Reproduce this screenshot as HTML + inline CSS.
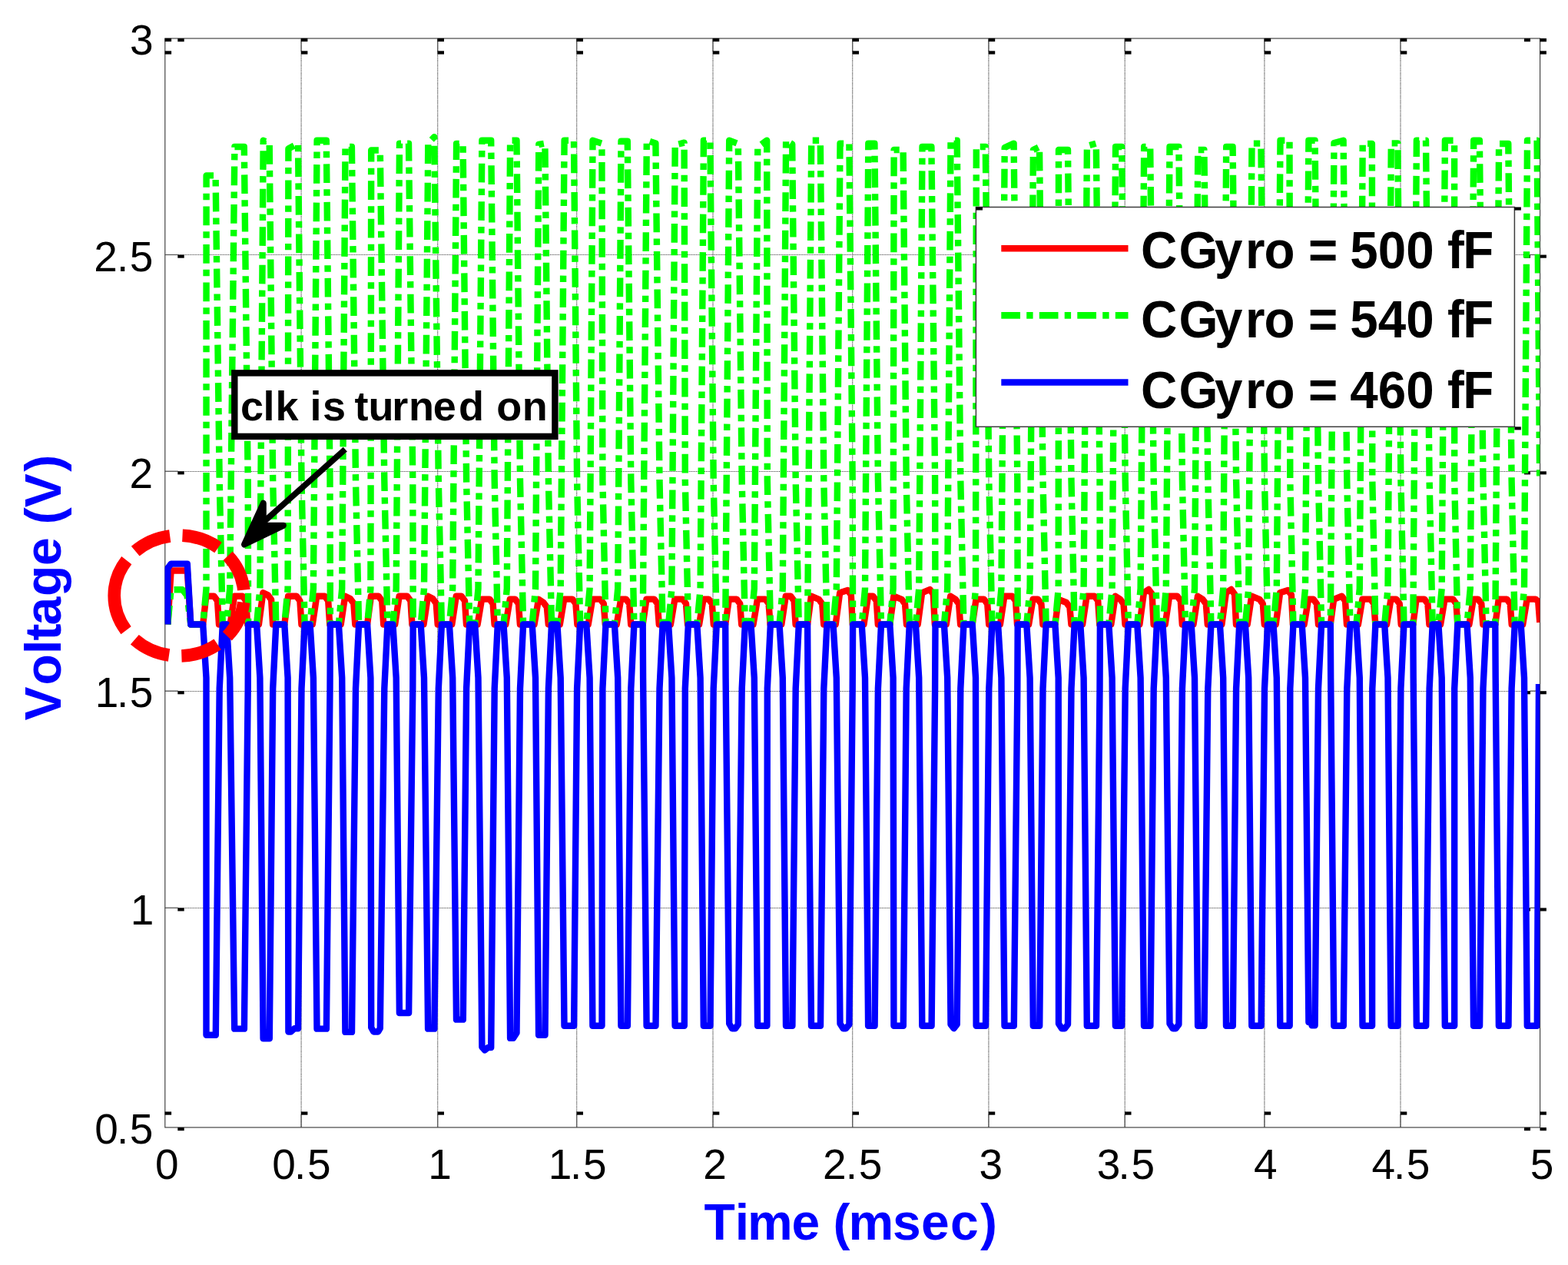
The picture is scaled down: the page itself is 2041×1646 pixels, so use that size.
<!DOCTYPE html>
<html lang="en"><head><meta charset="utf-8"><title>Voltage vs Time</title>
<style>html,body{margin:0;padding:0;background:#fff}body{width:2041px;height:1646px;overflow:hidden}svg{display:block}text{font-family:'Liberation Sans', sans-serif}</style>
</head><body>
<svg width="2041" height="1646" viewBox="0 0 2041 1646">
<rect x="0" y="0" width="2041" height="1646" fill="#fff"/>
<defs><clipPath id="ax"><rect x="214.4" y="50" width="1789.9" height="1417"/></clipPath></defs>
<g stroke="#d8d8d8" stroke-width="1.05" fill="none">
<line x1="392.1" y1="50" x2="392.1" y2="1467"/>
<line x1="569.7" y1="50" x2="569.7" y2="1467"/>
<line x1="750.7" y1="50" x2="750.7" y2="1467"/>
<line x1="928" y1="50" x2="928" y2="1467"/>
<line x1="1109.7" y1="50" x2="1109.7" y2="1467"/>
<line x1="1286.9" y1="50" x2="1286.9" y2="1467"/>
<line x1="1464.2" y1="50" x2="1464.2" y2="1467"/>
<line x1="1645.9" y1="50" x2="1645.9" y2="1467"/>
<line x1="1823" y1="50" x2="1823" y2="1467"/>
</g>
<g stroke="#4a4a4a" stroke-width="1.05" stroke-dasharray="1.08 1.08" fill="none">
<line x1="392.1" y1="50" x2="392.1" y2="1467"/>
<line x1="569.7" y1="50" x2="569.7" y2="1467"/>
<line x1="750.7" y1="50" x2="750.7" y2="1467"/>
<line x1="928" y1="50" x2="928" y2="1467"/>
<line x1="1109.7" y1="50" x2="1109.7" y2="1467"/>
<line x1="1286.9" y1="50" x2="1286.9" y2="1467"/>
<line x1="1464.2" y1="50" x2="1464.2" y2="1467"/>
<line x1="1645.9" y1="50" x2="1645.9" y2="1467"/>
<line x1="1823" y1="50" x2="1823" y2="1467"/>
</g>
<g stroke="#3c3c3c" stroke-width="1" stroke-dasharray="1.08 1.08" fill="none">
<line x1="214.8" y1="331.5" x2="2004.6" y2="331.5"/>
<line x1="214.8" y1="613.5" x2="2004.6" y2="613.5"/>
<line x1="214.8" y1="899.5" x2="2004.6" y2="899.5"/>
<line x1="214.8" y1="1181.5" x2="2004.6" y2="1181.5"/>
</g>
<rect x="214.8" y="50" width="1789.8" height="1417" fill="none" stroke="#3e3e3e" stroke-width="1.15"/>
<g stroke="#555" stroke-width="1.2" fill="none">
<line x1="392.1" y1="50" x2="392.1" y2="67"/>
<line x1="392.1" y1="1467" x2="392.1" y2="1450"/>
<line x1="569.7" y1="50" x2="569.7" y2="67"/>
<line x1="569.7" y1="1467" x2="569.7" y2="1450"/>
<line x1="750.7" y1="50" x2="750.7" y2="67"/>
<line x1="750.7" y1="1467" x2="750.7" y2="1450"/>
<line x1="928" y1="50" x2="928" y2="67"/>
<line x1="928" y1="1467" x2="928" y2="1450"/>
<line x1="1109.7" y1="50" x2="1109.7" y2="67"/>
<line x1="1109.7" y1="1467" x2="1109.7" y2="1450"/>
<line x1="1286.9" y1="50" x2="1286.9" y2="67"/>
<line x1="1286.9" y1="1467" x2="1286.9" y2="1450"/>
<line x1="1464.2" y1="50" x2="1464.2" y2="67"/>
<line x1="1464.2" y1="1467" x2="1464.2" y2="1450"/>
<line x1="1645.9" y1="50" x2="1645.9" y2="67"/>
<line x1="1645.9" y1="1467" x2="1645.9" y2="1450"/>
<line x1="1823" y1="50" x2="1823" y2="67"/>
<line x1="1823" y1="1467" x2="1823" y2="1450"/>
<line x1="214.8" y1="331.5" x2="231.8" y2="331.5"/>
<line x1="2004.6" y1="331.5" x2="1991.6" y2="331.5"/>
<line x1="214.8" y1="613.2" x2="231.8" y2="613.2"/>
<line x1="2004.6" y1="613.2" x2="1991.6" y2="613.2"/>
<line x1="214.8" y1="899.1" x2="231.8" y2="899.1"/>
<line x1="2004.6" y1="899.1" x2="1991.6" y2="899.1"/>
<line x1="214.8" y1="1181.3" x2="231.8" y2="1181.3"/>
<line x1="2004.6" y1="1181.3" x2="1991.6" y2="1181.3"/>
</g>
<g fill="#000">
<rect x="214.6" y="49.9" width="8.5" height="4.2"/>
<rect x="214.6" y="66.3" width="8.5" height="4.3"/>
<rect x="214.6" y="1446.5" width="8.5" height="4.2"/>
<rect x="391.9" y="49.9" width="8.5" height="4.2"/>
<rect x="391.9" y="66.3" width="8.5" height="4.3"/>
<rect x="391.9" y="1446.5" width="8.5" height="4.2"/>
<rect x="569.5" y="49.9" width="8.5" height="4.2"/>
<rect x="569.5" y="66.3" width="8.5" height="4.3"/>
<rect x="569.5" y="1446.5" width="8.5" height="4.2"/>
<rect x="750.5" y="49.9" width="8.5" height="4.2"/>
<rect x="750.5" y="66.3" width="8.5" height="4.3"/>
<rect x="750.5" y="1446.5" width="8.5" height="4.2"/>
<rect x="927.8" y="49.9" width="8.5" height="4.2"/>
<rect x="927.8" y="66.3" width="8.5" height="4.3"/>
<rect x="927.8" y="1446.5" width="8.5" height="4.2"/>
<rect x="1109.5" y="49.9" width="8.5" height="4.2"/>
<rect x="1109.5" y="66.3" width="8.5" height="4.3"/>
<rect x="1109.5" y="1446.5" width="8.5" height="4.2"/>
<rect x="1286.7" y="49.9" width="8.5" height="4.2"/>
<rect x="1286.7" y="66.3" width="8.5" height="4.3"/>
<rect x="1286.7" y="1446.5" width="8.5" height="4.2"/>
<rect x="1464" y="49.9" width="8.5" height="4.2"/>
<rect x="1464" y="66.3" width="8.5" height="4.3"/>
<rect x="1464" y="1446.5" width="8.5" height="4.2"/>
<rect x="1645.7" y="49.9" width="8.5" height="4.2"/>
<rect x="1645.7" y="66.3" width="8.5" height="4.3"/>
<rect x="1645.7" y="1446.5" width="8.5" height="4.2"/>
<rect x="1822.8" y="49.9" width="8.5" height="4.2"/>
<rect x="1822.8" y="66.3" width="8.5" height="4.3"/>
<rect x="1822.8" y="1446.5" width="8.5" height="4.2"/>
<rect x="2004.4" y="49.9" width="8.5" height="4.2"/>
<rect x="2004.4" y="66.3" width="8.5" height="4.3"/>
<rect x="2004.4" y="1446.5" width="8.5" height="4.2"/>
<rect x="231.3" y="50.1" width="8.4" height="4.1"/>
<rect x="1984" y="50.1" width="8" height="4.1"/>
<rect x="2004.5" y="50.1" width="8.4" height="4.1"/>
<rect x="231.3" y="331.6" width="8.4" height="4.1"/>
<rect x="1984" y="331.6" width="8" height="4.1"/>
<rect x="2004.5" y="331.6" width="8.4" height="4.1"/>
<rect x="231.3" y="613.3" width="8.4" height="4.1"/>
<rect x="1984" y="613.3" width="8" height="4.1"/>
<rect x="2004.5" y="613.3" width="8.4" height="4.1"/>
<rect x="231.3" y="899.2" width="8.4" height="4.1"/>
<rect x="1984" y="899.2" width="8" height="4.1"/>
<rect x="2004.5" y="899.2" width="8.4" height="4.1"/>
<rect x="231.3" y="1181.4" width="8.4" height="4.1"/>
<rect x="1984" y="1181.4" width="8" height="4.1"/>
<rect x="2004.5" y="1181.4" width="8.4" height="4.1"/>
<rect x="231.3" y="1467.1" width="8.4" height="4.1"/>
<rect x="1984" y="1467.1" width="8" height="4.1"/>
<rect x="2004.5" y="1467.1" width="8.4" height="4.1"/>
</g>
<g fill="none" stroke-width="8.4" stroke-linejoin="round" stroke-linecap="butt" clip-path="url(#ax)">
<path stroke="#f00" d="M218.3 812.5 L222.6 742.5 L243.8 742.5 L248.3 812.5 L264.2 812.5 L268.3 775.7 L278.6 775.7 L283 781.7 L285 812.5 L299.6 812.5 L305.1 775.7 L315.8 775.7 L320.2 781.7 L322.2 812.5 L336.9 812.5 L342.4 771.3 L348.7 774.3 L353.1 780.3 L355.1 812.5 L370.3 812.5 L375.1 775.7 L386 775.7 L390.4 781.7 L392.4 812.5 L406.8 812.5 L412.3 775.7 L422.8 775.7 L427.2 781.7 L429.2 812.5 L443.7 812.5 L449.2 775.7 L455.9 779 L460.3 785 L462.3 812.5 L478.1 812.5 L482.9 775.7 L492.8 775.7 L497.2 781.7 L499.2 812.5 L514.2 812.5 L519.7 775.7 L530 775.7 L534.4 781.7 L536.4 812.5 L551.5 812.5 L557 775.7 L563.3 779 L567.7 785 L569.7 812.5 L588.3 812.5 L593.8 775.7 L600.6 775.7 L605 781.7 L607 812.5 L621.6 812.5 L627.1 779.6 L637.2 779.6 L641.6 785.6 L643.6 812.5 L658.3 812.5 L663.8 779.6 L670.5 779.6 L674.9 785.6 L676.9 812.5 L695.5 812.5 L701 779.8 L707.4 784 L711.8 790 L713.8 812.5 L728.8 812.5 L734.3 779.6 L745 779.6 L749.4 785.6 L751.4 812.5 L765.7 812.5 L771.2 779.6 L781.4 779.6 L785.8 785.6 L787.8 812.5 L802.7 812.5 L808.2 779.6 L814.8 779.6 L819.2 785.6 L821.2 812.5 L836.7 812.5 L841.5 779.6 L851.4 779.6 L855.8 785.6 L857.8 812.5 L872.9 812.5 L878.4 779.6 L888.6 779.6 L893 785.6 L895 812.5 L910.1 812.5 L915.6 779.6 L922.4 779.6 L926.8 785.6 L928.8 812.5 L944.2 812.5 L948.9 779.6 L958.8 779.6 L963.2 785.6 L965.2 812.5 L980.5 812.5 L986 779.6 L996.2 779.6 L1000.6 785.6 L1002.6 812.5 L1017.3 812.5 L1022.8 775.7 L1029.2 775.7 L1033.6 781.7 L1035.6 812.5 L1051.1 812.5 L1055.9 775.7 L1065.8 779.8 L1070.2 785.8 L1072.2 812.5 L1087.7 812.5 L1093.2 771.3 L1103.4 768 L1107.8 774 L1109.8 812.5 L1124.5 812.5 L1130 775.7 L1136.4 775.7 L1140.8 781.7 L1142.8 812.5 L1158.3 812.5 L1163.3 775.7 L1173.6 779.8 L1178 785.8 L1180 812.5 L1194.7 812.5 L1200.2 771.3 L1210.4 767 L1214.8 773 L1216.8 812.5 L1231.7 812.5 L1237.2 775.7 L1243.7 779.8 L1248.1 785.8 L1250.1 812.5 L1265.7 812.5 L1270.5 779.8 L1280.8 779.8 L1285.2 785.8 L1287.2 812.5 L1301.9 812.5 L1307.4 775.7 L1317.6 775.7 L1322 781.7 L1324 812.5 L1339.1 812.5 L1344.6 779.8 L1351 779.8 L1355.4 785.8 L1357.4 812.5 L1373.4 812.5 L1377.7 779.8 L1388 784 L1392.4 790 L1394.4 812.5 L1409.1 812.5 L1414.6 775.7 L1424.8 775.7 L1429.2 781.7 L1431.2 812.5 L1446.3 812.5 L1451.8 775.7 L1458.1 779.8 L1462.5 785.8 L1464.5 812.5 L1483.4 812.5 L1488.9 771.3 L1495.2 767 L1499.6 773 L1501.6 812.5 L1516.7 812.5 L1522.2 775.7 L1532.4 775.7 L1536.8 781.7 L1538.8 812.5 L1553.5 812.5 L1559 775.7 L1565.4 779.8 L1569.8 785.8 L1571.8 812.5 L1590.4 812.5 L1595.9 771.3 L1602.6 767 L1607 773 L1609 812.5 L1623.7 812.5 L1629.2 775.7 L1639.4 779.8 L1643.8 785.8 L1645.8 812.5 L1660.7 812.5 L1666.2 771.3 L1676.5 768 L1680.9 774 L1682.9 812.5 L1697.6 812.5 L1703.1 779.8 L1709.6 779.8 L1714 785.8 L1716 812.5 L1731.8 812.5 L1736.2 779.8 L1746.6 775.7 L1751 781.7 L1753 812.5 L1767.9 812.5 L1773.4 779.6 L1783.9 779.6 L1788.3 785.6 L1790.3 812.5 L1805 812.5 L1810.5 779.6 L1817.3 779.6 L1821.7 785.6 L1823.7 812.5 L1839.3 812.5 L1843.6 779.6 L1854 779.6 L1858.4 785.6 L1860.4 812.5 L1875.1 812.5 L1880.6 779.6 L1891.1 779.6 L1895.5 785.6 L1897.3 812.5 L1912.4 812.5 L1917.9 779.6 L1923.9 779.6 L1928.3 785.6 L1930.3 812.5 L1946.3 812.5 L1950.8 779.6 L1961.3 779.6 L1965.7 785.6 L1967.7 812.5 L1982.2 812.5 L1987.7 779.6 L1998.6 779.6 L2002.2 782.6 L2004.3 810"/>
<path stroke="#0f0" stroke-dasharray="24.7 8.2 8.4 8.2" d="M218.3 812.5 L222.6 767.2 L237.5 767.2 L243.5 775 L248.3 812.5 L264.2 812.5 L268.5 766 L268.6 228.4 L280.6 228.4 L285.7 625 L289.8 812.5 L294.9 812.5 L299.2 766 L305.4 191 L317.8 191 L322.7 625 L323.1 812.5 L334.1 812.5 L338.4 766 L342.7 182.7 L350.7 186.6 L355.2 625 L359.3 812.5 L370.3 812.5 L374.6 766 L375.4 193.5 L388 186.6 L392.5 625 L396.6 812.5 L403.6 812.5 L407.9 766 L412.6 182.7 L424.8 182.7 L429.5 625 L429.9 812.5 L440.9 812.5 L445.2 766 L449.5 191 L457.9 191 L463 625 L467.1 812.5 L478.1 812.5 L482.4 766 L483.2 195.5 L494.8 195.5 L500.3 625 L504.4 812.5 L511.4 812.5 L515.7 766 L520 186.6 L532 186.6 L537.3 625 L537.7 812.5 L547.7 812.5 L552 766 L557.3 186.6 L565.3 178.2 L570.8 625 L574.9 812.5 L584.9 812.5 L589.2 766 L594.1 187 L602.6 187 L607.1 625 L611.2 812.5 L618.2 812.5 L622.5 766 L627.4 182.7 L639.2 182.7 L643.7 625 L647.8 812.5 L655.5 812.5 L659.8 766 L664.1 182.7 L672.5 182.7 L677 625 L681.1 812.5 L692.7 812.5 L697 766 L701.3 188 L709.4 186.6 L713.9 625 L718 812.5 L725.4 812.5 L729.7 766 L734.6 182.7 L747 182.7 L751.1 625 L755.2 812.5 L763.3 812.5 L767.6 766 L771.5 182.7 L783.4 186.6 L784.4 625 L788.5 812.5 L799.9 812.5 L804.2 766 L808.5 183.7 L816.8 183.7 L821.3 625 L825.4 812.5 L836.7 812.5 L837.1 766 L841.8 182.7 L853.4 186.6 L858.5 625 L862.6 812.5 L870.1 812.5 L874.4 766 L878.7 188.6 L890.6 185.7 L891.8 625 L895.9 812.5 L907.3 812.5 L911.6 766 L915.9 182.7 L924.4 182.7 L928.7 625 L932.8 812.5 L944.2 812.5 L944.6 766 L949.2 182.7 L960.8 187 L965.7 625 L969.8 812.5 L977.5 812.5 L981.8 766 L986.3 191.5 L998.2 182.7 L998.8 625 L1002.9 812.5 L1014.5 812.5 L1018.8 766 L1023.1 182.7 L1031.2 187.6 L1035.7 625 L1039.8 812.5 L1051.1 812.5 L1051.5 766 L1056.2 182.7 L1067.8 182.7 L1072.3 625 L1076.4 812.5 L1084.5 812.5 L1088.8 766 L1093.5 186.6 L1105.4 186.6 L1109.7 625 L1110.1 812.5 L1121.7 812.5 L1126 766 L1130.3 186.6 L1138.4 186.6 L1142.9 625 L1147 812.5 L1158.3 812.5 L1162.6 766 L1163.6 195 L1175.6 195 L1179.7 625 L1183.8 812.5 L1191.9 812.5 L1196.2 766 L1200.5 191 L1212.4 191 L1217.1 625 L1217.5 812.5 L1228.9 812.5 L1233.2 766 L1237.5 182.7 L1245.7 182.7 L1250.3 625 L1254.4 812.5 L1265.7 812.5 L1270 766 L1270.8 191 L1282.8 191 L1287.3 625 L1291.4 812.5 L1299.1 812.5 L1303.4 766 L1307.7 192 L1319.6 186.6 L1324.3 625 L1324.7 812.5 L1336.3 812.5 L1340.6 766 L1344.9 195 L1353 191 L1357.5 625 L1361.6 812.5 L1373.4 812.5 L1377.7 766 L1378 195 L1390 195 L1394.5 625 L1398.6 812.5 L1406.3 812.5 L1410.6 766 L1414.9 190 L1426.8 186.6 L1431.5 625 L1431.9 812.5 L1443.3 812.5 L1447.6 766 L1452.1 191 L1460.1 191 L1464.7 625 L1468.8 812.5 L1480.3 812.5 L1484.6 766 L1489.2 191 L1497.2 191 L1501.7 625 L1505.8 812.5 L1513.5 812.5 L1517.8 766 L1522.5 191 L1534.4 191 L1538.9 625 L1543 812.5 L1550.7 812.5 L1555 766 L1559.3 195 L1567.4 195 L1572.3 625 L1576.4 812.5 L1587.9 812.5 L1592.2 766 L1596.2 191 L1604.6 191 L1609.1 625 L1613.2 812.5 L1620.9 812.5 L1625.2 766 L1629.5 186.6 L1641.4 186.6 L1646 625 L1650.1 812.5 L1657.5 812.5 L1661.8 766 L1666.5 182.7 L1678.5 182.7 L1679.3 625 L1683.4 812.5 L1694.7 812.5 L1699 766 L1703.4 182.7 L1711.6 182.7 L1716 625 L1720.1 812.5 L1731.8 812.5 L1732.2 766 L1736.5 186 L1748.6 182.7 L1753.3 625 L1757.4 812.5 L1765.5 812.5 L1769.8 766 L1773.7 186.9 L1785.9 186.9 L1786.3 625 L1790.4 812.5 L1802.2 812.5 L1806.5 766 L1810.8 186.4 L1819.3 186.4 L1823.4 625 L1827.5 812.5 L1839.3 812.5 L1839.7 766 L1843.9 182.7 L1856 182.7 L1860.6 625 L1864.7 812.5 L1872.4 812.5 L1876.7 766 L1880.9 182.7 L1893.1 182.7 L1893.2 625 L1897.3 812.5 L1909.5 812.5 L1913.8 766 L1918.2 182.7 L1925.9 182.7 L1930.5 625 L1934.6 812.5 L1946.3 812.5 L1946.7 766 L1951.1 187 L1963.3 187 L1967.6 625 L1971.7 812.5 L1979.7 812.5 L1984 766 L1988 182.7 L2000.6 182.7 L2004.2 627"/>
<path stroke="#00f" d="M218.3 812.5 L218.3 739.5 L222.6 733.6 L243.8 733.6 L248.3 812.5 L264.2 812.5 L268.5 882 L268.5 1346.8 L280.8 1346.8 L285.7 896 L289.8 812.5 L294.9 812.5 L299.2 882 L305.2 1338.6 L317.9 1338.6 L322.7 896 L323.1 812.5 L334.1 812.5 L338.4 882 L342.6 1351.3 L350.8 1351.3 L355.2 896 L359.3 812.5 L370.3 812.5 L374.6 882 L375.4 1342.5 L378.5 1342.5 L383.4 1338.2 L388 1338.2 L392.5 896 L396.6 812.5 L403.6 812.5 L407.9 882 L412.5 1338.6 L424.9 1338.6 L429.5 896 L429.9 812.5 L440.9 812.5 L445.2 882 L449.4 1342.9 L458 1342.9 L463 896 L467.1 812.5 L478.1 812.5 L482.4 882 L483.2 1337 L486.3 1342.5 L492.2 1342.5 L494.8 1338 L500.3 896 L504.4 812.5 L511.4 812.5 L515.7 882 L519.9 1318 L532.1 1318 L537.3 896 L537.7 812.5 L547.7 812.5 L552 882 L557.1 1338.6 L565.4 1338.6 L570.8 896 L574.9 812.5 L584.9 812.5 L589.2 882 L594 1326.6 L602.8 1326.6 L607.1 896 L611.2 812.5 L618.2 812.5 L622.5 882 L627.4 1362.5 L631 1366.4 L635.3 1363 L639.2 1363 L643.7 896 L647.8 812.5 L655.5 812.5 L659.8 882 L664.1 1350.9 L668 1350.9 L672.5 1344 L677 896 L681.1 812.5 L692.7 812.5 L697 882 L701.1 1346.8 L709.5 1346.8 L713.9 896 L718 812.5 L725.4 812.5 L729.7 882 L734.5 1334.7 L747.1 1334.7 L751.1 896 L755.2 812.5 L763.3 812.5 L767.6 882 L771.4 1334.7 L783.5 1334.7 L784.4 896 L788.5 812.5 L799.9 812.5 L804.2 882 L808.4 1334.7 L816.9 1334.7 L821.3 896 L825.4 812.5 L836.7 812.5 L837.1 882 L841.6 1334.7 L853.5 1334.7 L858.5 896 L862.6 812.5 L870.1 812.5 L874.4 882 L878.6 1334.7 L890.8 1334.7 L891.8 896 L895.9 812.5 L907.3 812.5 L911.6 882 L915.8 1334.7 L924.5 1334.7 L928.7 896 L932.8 812.5 L944.2 812.5 L944.6 882 L949.2 1332 L952.8 1338.2 L957.1 1338.2 L960.8 1333 L965.7 896 L969.8 812.5 L977.5 812.5 L981.8 882 L986.1 1334.7 L998.4 1334.7 L998.8 896 L1002.9 812.5 L1014.5 812.5 L1018.8 882 L1023 1334.7 L1031.4 1334.7 L1035.7 896 L1039.8 812.5 L1051.1 812.5 L1051.5 882 L1056 1334.7 L1068 1334.7 L1072.3 896 L1076.4 812.5 L1084.5 812.5 L1088.8 882 L1093.5 1332 L1097.5 1338.2 L1101 1338.2 L1105.4 1333 L1109.7 896 L1110.1 812.5 L1121.7 812.5 L1126 882 L1130.1 1334.7 L1138.6 1334.7 L1142.9 896 L1147 812.5 L1158.3 812.5 L1162.6 882 L1163.4 1334.7 L1175.8 1334.7 L1179.7 896 L1183.8 812.5 L1191.9 812.5 L1196.2 882 L1200.3 1334.7 L1212.6 1334.7 L1217.1 896 L1217.5 812.5 L1228.9 812.5 L1233.2 882 L1237.5 1333 L1241.6 1338.2 L1245.7 1333 L1250.3 896 L1254.4 812.5 L1265.7 812.5 L1270 882 L1270.6 1334.7 L1283 1334.7 L1287.3 896 L1291.4 812.5 L1299.1 812.5 L1303.4 882 L1307.5 1334.7 L1319.8 1334.7 L1324.3 896 L1324.7 812.5 L1336.3 812.5 L1340.6 882 L1344.8 1334.7 L1353.2 1334.7 L1357.5 896 L1361.6 812.5 L1373.4 812.5 L1377.7 882 L1378 1332 L1382 1338.2 L1386 1338.2 L1390 1333 L1394.5 896 L1398.6 812.5 L1406.3 812.5 L1410.6 882 L1414.8 1334.7 L1427 1334.7 L1431.5 896 L1431.9 812.5 L1443.3 812.5 L1447.6 882 L1451.9 1334.7 L1460.2 1334.7 L1464.7 896 L1468.8 812.5 L1480.3 812.5 L1484.6 882 L1489 1334.7 L1497.4 1334.7 L1501.7 896 L1505.8 812.5 L1513.5 812.5 L1517.8 882 L1522.5 1332 L1526.5 1338.2 L1530.5 1338.2 L1534.4 1333 L1538.9 896 L1543 812.5 L1550.7 812.5 L1555 882 L1559.1 1334.7 L1567.6 1334.7 L1572.3 896 L1576.4 812.5 L1587.9 812.5 L1592.2 882 L1596 1334.7 L1604.8 1334.7 L1609.1 896 L1613.2 812.5 L1620.9 812.5 L1625.2 882 L1629.3 1334.7 L1641.6 1334.7 L1646 896 L1650.1 812.5 L1657.5 812.5 L1661.8 882 L1666.3 1334.7 L1678.7 1334.7 L1679.3 896 L1683.4 812.5 L1694.7 812.5 L1699 882 L1703.4 1330 L1707.5 1330 L1707.5 1334.3 L1711.6 1334.3 L1716 896 L1720.1 812.5 L1731.8 812.5 L1732.2 882 L1736.3 1334.7 L1748.8 1334.7 L1753.3 896 L1757.4 812.5 L1765.5 812.5 L1769.8 882 L1773.5 1334.7 L1786.1 1334.7 L1786.3 896 L1790.4 812.5 L1802.2 812.5 L1806.5 882 L1810.6 1334.7 L1819.5 1334.7 L1823.4 896 L1827.5 812.5 L1839.3 812.5 L1839.7 882 L1843.8 1334.7 L1856.2 1334.7 L1860.6 896 L1864.7 812.5 L1872.4 812.5 L1876.7 882 L1880.8 1334.7 L1893.2 1334.7 L1893.2 896 L1897.3 812.5 L1909.5 812.5 L1913.8 882 L1918 1334.7 L1926.1 1334.7 L1930.5 896 L1934.6 812.5 L1946.3 812.5 L1946.7 882 L1950.9 1334.7 L1963.5 1334.7 L1967.6 896 L1971.7 812.5 L1979.7 812.5 L1984 882 L1987.8 1334.7 L2000.8 1334.7 L2003 890"/>
</g>
<text x="201.9" y="1533.8" font-size="55" fill="#000">0</text>
<text x="354.3 383.1 400" y="1533.8" font-size="55" fill="#000">0.5</text>
<text x="557.2" y="1533.8" font-size="55" fill="#000">1</text>
<text x="713.8 742 758.9" y="1533.8" font-size="55" fill="#000">1.5</text>
<text x="915.2" y="1533.8" font-size="55" fill="#000">2</text>
<text x="1071 1100.8 1117.7" y="1533.8" font-size="55" fill="#000">2.5</text>
<text x="1274.5" y="1533.8" font-size="55" fill="#000">3</text>
<text x="1427.7 1455.5 1472.4" y="1533.8" font-size="55" fill="#000">3.5</text>
<text x="1632.1" y="1533.8" font-size="55" fill="#000">4</text>
<text x="1785.4 1813.9 1830.8" y="1533.8" font-size="55" fill="#000">4.5</text>
<text x="1991.7" y="1533.8" font-size="55" fill="#000">5</text>
<text x="169.1" y="71.3" font-size="55" fill="#000">3</text>
<text x="122.3 151.9 168.8" y="352.8" font-size="55" fill="#000">2.5</text>
<text x="168.6" y="634.5" font-size="55" fill="#000">2</text>
<text x="123.7 151.9 168.8" y="920.4" font-size="55" fill="#000">1.5</text>
<text x="169.8" y="1202.6" font-size="55" fill="#000">1</text>
<text x="123.3 151.9 168.8" y="1488.3" font-size="55" fill="#000">0.5</text>
<text transform="translate(0 1612.6) scale(1 1.02)" x="916.4 956.7 972.9 1030.4 1067.1 1084.5 1104.5 1161.9 1199.1 1236.9 1275.9" y="0" font-size="66" font-weight="bold" fill="#00f">Time (msec)</text>
<text transform="translate(79 1000) rotate(-90) scale(1 1.02)" x="62.6 108.4 149.1 166.4 186.6 224 264.1 300.8 317.8 339.7 386.2" y="0" font-size="66" font-weight="bold" fill="#00f">Voltage (V)</text>
<rect x="1270.4" y="269.5" width="701" height="285.8" fill="#fff" stroke="#3c3c3c" stroke-width="1.5"/>
<g fill="#000">
<rect x="1270.4" y="269.5" width="8.6" height="4"/>
<rect x="1971.4" y="269.5" width="8.5" height="4.1"/>
<rect x="1971.4" y="555.3" width="8.4" height="4.1"/>
</g>
<g fill="none" stroke-width="8.6">
<line x1="1303.3" y1="323.3" x2="1468.5" y2="323.3" stroke="#f00"/>
<line x1="1303.3" y1="410.4" x2="1468.5" y2="410.4" stroke="#0f0" stroke-dasharray="24.7 8.2 8.4 8.2"/>
<line x1="1303.3" y1="497.5" x2="1468.5" y2="497.5" stroke="#00f"/>
</g>
<text transform="translate(0 348.6) scale(1 1.04)" x="1485.1 1534.4 1581.1 1621 1645.6 1685.7 1703.1 1741.3 1757.2 1793.7 1830.2 1866.6 1883.9 1904.3" y="0" font-size="65.5" font-weight="bold" fill="#000">CGyro = 500 fF</text>
<text transform="translate(0 439.4) scale(1 1.04)" x="1485.1 1534.4 1581.1 1621 1645.6 1685.7 1703.1 1741.3 1757.2 1793.7 1830.2 1866.6 1883.9 1904.3" y="0" font-size="65.5" font-weight="bold" fill="#000">CGyro = 540 fF</text>
<text transform="translate(0 530.5) scale(1 1.04)" x="1485.1 1534.4 1581.1 1621 1645.6 1685.7 1703.1 1741.3 1757.2 1793.7 1830.2 1866.6 1883.9 1904.3" y="0" font-size="65.5" font-weight="bold" fill="#000">CGyro = 460 fF</text>
<rect x="305.3" y="485.4" width="417.1" height="82.5" fill="#fff" stroke="#000" stroke-width="8.4"/>
<text x="313.1 342.5 358.4 388.5 403.6 419.9 449.9 461.5 479.6 510.2 531.9 563.8 597 630 646.2 679.8" y="547.2" font-size="54" font-weight="bold" fill="#000">clk is turned on</text>
<line x1="449.3" y1="584.6" x2="344" y2="678.3" stroke="#000" stroke-width="7.8" stroke-linecap="butt"/>
<path d="M318 708.5 L342.8 654.7 L342.8 683.8 L368.9 683.8 Z" fill="#000" stroke="#000" stroke-width="8" stroke-linejoin="round"/>
<path d="M148.7 775.1 A84.5 78.4 0 1 1 317.7 775.1 A84.5 78.4 0 1 1 148.7 775.1" fill="none" stroke="#f00" stroke-width="16.6" stroke-dasharray="49.6 16.5"/>
</svg>
</body></html>
